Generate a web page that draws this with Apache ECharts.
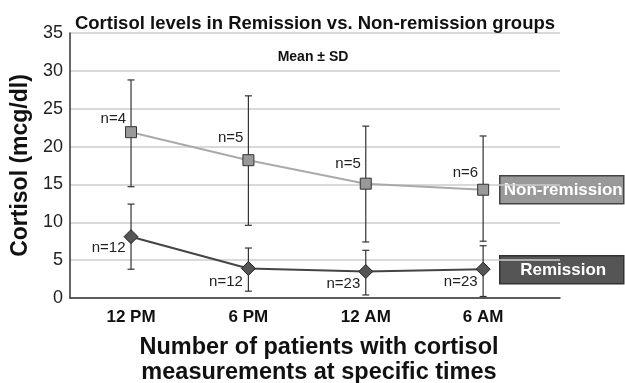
<!DOCTYPE html>
<html>
<head>
<meta charset="utf-8">
<script src="https://cdn.jsdelivr.net/npm/echarts@6/dist/echarts.min.js"></script>
<style>html,body{margin:0;padding:0;background:#fff}#c{width:625px;height:383px}</style>
</head>
<body>
<div id="c"></div>
<script>
var categories = ['12 PM', '6 PM', '12 AM', '6 AM'];
var nonRemMean = [21.9, 18.2, 15.1, 14.3];
var nonRemHigh = [28.8, 26.7, 22.7, 21.4];
var nonRemLow = [14.7, 9.6, 7.4, 7.5];
var nonRemN = [4, 5, 5, 6];
var remMean = [8.1, 3.9, 3.5, 3.8];
var remHigh = [12.4, 6.6, 6.3, 6.9];
var remLow = [3.8, 0.9, 0.4, 0.2];
var remN = [12, 12, 23, 23];
var yTicks = [0, 5, 10, 15, 20, 25, 30, 35];

var FONT = '"Liberation Sans", Arial, Helvetica, sans-serif';
var chart = echarts.init(document.getElementById('c'), null, {renderer: 'canvas'});

// label vertical nudges (style only)
var nonRemLabelDy = [-13, -22, -20, -17];
var remLabelDy = [11, 13, 12, 13];

function errData(hi, lo) {
  return categories.map(function (c, i) { return [i, lo[i], hi[i]]; });
}
function lineData(m, n, dy, dx) {
  return categories.map(function (c, i) {
    return {value: [i, m[i]], nLabel: 'n=' + n[i], label: {offset: [dx, dy[i]]}};
  });
}
function errRender(params, api) {
  var x = api.value(0);
  var lo = api.coord([x, api.value(1)]);
  var hi = api.coord([x, api.value(2)]);
  var w = 3.5;
  var st = {stroke: '#333', lineWidth: 1.2};
  return {
    type: 'group',
    children: [
      {type: 'line', shape: {x1: lo[0], y1: lo[1], x2: hi[0], y2: hi[1]}, style: st},
      {type: 'line', shape: {x1: lo[0] - w, y1: lo[1], x2: lo[0] + w, y2: lo[1]}, style: st},
      {type: 'line', shape: {x1: hi[0] - w, y1: hi[1], x2: hi[0] + w, y2: hi[1]}, style: st}
    ]
  };
}

var option = {
  backgroundColor: '#fff',
  animation: false,
  textStyle: {fontFamily: FONT},
  title: [
    {text: 'Cortisol levels in Remission vs. Non-remission groups', left: 310, top: 9, textAlign: 'center',
     textStyle: {fontFamily: FONT, fontSize: 18.5, fontWeight: 'bold', color: '#111', lineHeight: 20}},
    {text: 'Mean \u00b1 SD', left: 308, top: 44, textAlign: 'center',
     textStyle: {fontFamily: FONT, fontSize: 14, fontWeight: 'bold', color: '#111', lineHeight: 16}},
    {text: 'Number of patients with cortisol\nmeasurements at specific times', left: 314, top: 330, textAlign: 'center',
     textStyle: {fontFamily: FONT, fontSize: 23.5, fontWeight: 'bold', color: '#111', lineHeight: 25}}
  ],
  grid: {left: 70, right: 65, top: 33, bottom: 85},
  xAxis: {
    type: 'value', min: -0.52, max: 3.655,
    axisLine: {show: true, onZero: false, lineStyle: {color: '#333', width: 1.5}},
    axisTick: {show: false},
    splitLine: {show: false},
    axisLabel: {
      customValues: [0, 1, 2, 3],
      showMinLabel: true, showMaxLabel: true, hideOverlap: false,
      margin: 11, fontFamily: FONT, fontSize: 17, fontWeight: 'bold', color: '#111',
      formatter: function (v) { return Number.isInteger(v) ? categories[v] : ''; }
    }
  },
  yAxis: {
    type: 'value', min: 0, max: 35, interval: 5,
    name: 'Cortisol (mcg/dl)', nameLocation: 'middle', nameGap: 34,
    nameTextStyle: {fontFamily: FONT, fontSize: 23, fontWeight: 'bold', color: '#111'},
    axisLine: {show: true, onZero: false, lineStyle: {color: '#333', width: 1.5}},
    axisTick: {show: false},
    splitLine: {show: true, lineStyle: {color: '#ccc', width: 1.5}},
    axisLabel: {margin: 7, fontFamily: FONT, fontSize: 18, color: '#222',
      formatter: function (v) { return yTicks.indexOf(v) >= 0 ? String(v) : ''; }}
  },
  series: [
    {type: 'custom', name: 'nonRemErr', renderItem: errRender, data: errData(nonRemHigh, nonRemLow), z: 2,
     encode: {x: 0, y: [1, 2]}},
    {type: 'custom', name: 'remErr', renderItem: errRender, data: errData(remHigh, remLow), z: 2,
     encode: {x: 0, y: [1, 2]}},
    {type: 'line', name: 'Non-remission', data: lineData(nonRemMean, nonRemN, nonRemLabelDy, 1), z: 3,
     symbol: 'rect', symbolSize: 11,
     lineStyle: {color: '#aaa', width: 2},
     itemStyle: {color: '#999', borderColor: '#333', borderWidth: 1},
     label: {show: true, position: 'left', distance: 0,
       fontFamily: FONT, fontSize: 15, color: '#222',
       formatter: function (p) { return p.data.nLabel; }}},
    {type: 'line', name: 'Remission', data: lineData(remMean, remN, remLabelDy, 2), z: 3,
     symbol: 'diamond', symbolSize: [14, 14],
     lineStyle: {color: '#444', width: 2},
     itemStyle: {color: '#555', borderColor: '#222', borderWidth: 1},
     label: {show: true, position: 'left', distance: 0,
       fontFamily: FONT, fontSize: 15, color: '#222',
       formatter: function (p) { return p.data.nLabel; }}}
  ],
  graphic: [
    {type: 'group', left: 499, top: 175, z: 10, children: [
      {type: 'rect', shape: {x: 0, y: 0, width: 124, height: 28}, style: {fill: '#999', stroke: '#444', lineWidth: 1.5}},
      {type: 'text', x: 63.5, y: 14.5, style: {text: 'Non-remission', fill: '#fff', font: 'bold 17px ' + FONT, textAlign: 'center', textVerticalAlign: 'middle'}}
    ]},
    {type: 'group', left: 499, top: 255, z: 10, children: [
      {type: 'rect', shape: {x: 0, y: 0, width: 124, height: 28}, style: {fill: '#555', stroke: '#333', lineWidth: 1.5}},
      {type: 'text', x: 63.5, y: 14.5, style: {text: 'Remission', fill: '#fff', font: 'bold 17px ' + FONT, textAlign: 'center', textVerticalAlign: 'middle'}}
    ]}
  ]
};
chart.setOption(option);
</script>
</body>
</html>
